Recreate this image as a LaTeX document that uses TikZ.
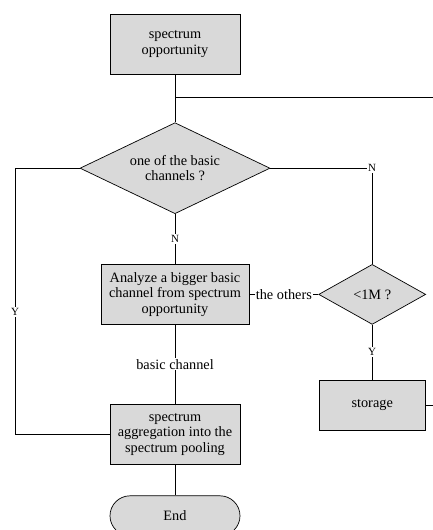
\documentclass[tikz,border=0pt]{standalone}
\usepackage{fontspec}
\setmainfont{Liberation Serif}
\usetikzlibrary{positioning}
\usetikzlibrary{shapes.geometric}
\definecolor{boxgray}{RGB}{217,217,217}
\tikzset{
  proc/.style={rectangle, minimum width=130pt, minimum height=60pt, text centered, align=center, draw=black, fill=boxgray, inner sep=2pt},
  dec/.style={diamond, aspect=2.1, minimum width=190pt, minimum height=91pt, inner sep=0pt, text centered, align=center, draw=black, fill=boxgray},
  term/.style={rectangle, rounded corners=20pt, minimum width=130pt, minimum height=40pt, text centered, draw=black, fill=boxgray},
  lbl/.style={fill=white, inner sep=1pt, font=\fontsize{14.3}{15.5}\selectfont},
  yn/.style={fill=white, inner sep=1.5pt, font=\fontsize{11}{12}\selectfont},
  node distance=48pt
}

\begin{document}
\begin{tikzpicture}[line width=0.7pt, font=\fontsize{14.3}{15.5}\selectfont]
	\useasboundingbox (0,0) rectangle (433pt,-530pt);
	\node[proc] (opp) at (175pt,-44pt) {spectrum\\opportunity};
	\node[dec, below=of opp] (basic) {one of the basic\\channels ?};
	\node[proc, minimum width=148pt, below=50pt of basic] (analyze) {Analyze a bigger basic\\channel from spectrum\\opportunity};
	\node[dec, minimum width=107pt, minimum height=60pt, right=69pt of analyze] (small) {<1M ?};
	\node[proc, minimum width=106pt, minimum height=50pt, below=55pt of small] (storage) {storage};
	\node[proc, below=79pt of analyze] (aggr) {spectrum\\aggregation into the\\spectrum pooling};
	\node[term, below=31pt of aggr] (end) {End};
	
	\coordinate[below=23pt of opp] (split);
	\coordinate (redge) at (433pt,0);
	\coordinate (ledge) at (15pt,0);
	
	\draw (opp) -- (basic);
	\draw (split) -- (split -| redge);
	\draw (basic.west) -| node[yn, pos=0.77] {Y} (ledge |- aggr.west) -- (aggr.west);
	\draw (basic.east) -| node[yn, pos=0.5] {N} (small.north);
	\draw (basic.south) -- node[yn] {N} (analyze.north);
	\draw (analyze.east) -- node[lbl] {the others} (small.west);
	\draw (small.south) -- node[yn] {Y} (storage.north);
	\draw (storage.east) -- (storage.east -| redge);
	\draw (analyze.south) -- node[lbl] {basic channel} (aggr.north);
	\draw (aggr) -- (end);
\end{tikzpicture}
\end{document}
